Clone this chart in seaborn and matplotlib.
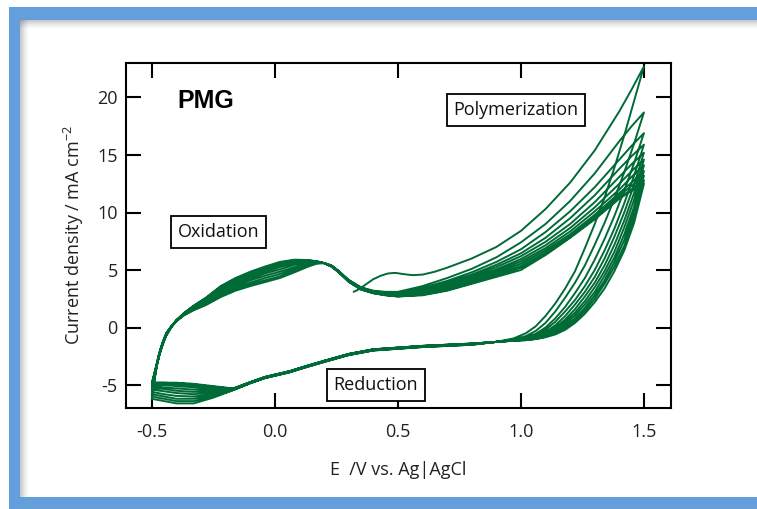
import numpy as np
import pandas as pd
import matplotlib
matplotlib.use("Agg")
import matplotlib.pyplot as plt
import seaborn as sns
from matplotlib.patches import Rectangle

# ---------------- data ----------------
# forward sweep potential grid (V) for full cycles
E_FWD = [-0.50, -0.49, -0.48, -0.47, -0.46, -0.45, -0.44, -0.42, -0.40, -0.37,
         -0.33, -0.28, -0.22, -0.16, -0.10, -0.04, 0.02, 0.08, 0.13, 0.17,
         0.20, 0.23, 0.26, 0.30, 0.35, 0.40, 0.45, 0.50, 0.60, 0.70,
         0.80, 0.90, 1.00, 1.10, 1.20, 1.30, 1.40, 1.45, 1.50]
# reverse sweep potential grid (V)
E_REV = [1.50, 1.46, 1.42, 1.38, 1.34, 1.30, 1.26, 1.22, 1.18, 1.14,
         1.10, 1.06, 1.02, 0.97, 0.90, 0.80, 0.60, 0.40, 0.30, 0.20,
         0.12, 0.06, 0.01, -0.04, -0.10, -0.17, -0.25, -0.33, -0.40, -0.45,
         -0.50]

# cycle 1 forward (starts at open-circuit ~0.32 V)
E_C1 = [0.32, 0.34, 0.37, 0.40, 0.43, 0.46, 0.49, 0.52, 0.56, 0.60,
        0.65, 0.70, 0.80, 0.90, 1.00, 1.10, 1.20, 1.30, 1.40, 1.45, 1.50]
fwd_1 = [3.1, 3.3, 3.75, 4.2, 4.5, 4.7, 4.75, 4.65, 4.55, 4.6,
         4.85, 5.2, 6.0, 7.0, 8.4, 10.3, 12.6, 15.4, 18.8, 20.7, 22.7]

# forward currents (mA cm-2) for cycles 2..11 on E_FWD
fwd_2 = [-6.2, -4.7, -3.35, -2.45, -1.75, -1.15, -0.65, 0.05, 0.55, 1.05, 1.5, 1.95, 2.65, 3.2, 3.6, 3.95, 4.3, 4.8, 5.25, 5.55, 5.6, 5.4, 4.9, 4.15, 3.5, 3.2, 3.1, 3.1, 3.6, 4.3, 5.1, 6.1, 7.4, 9.0, 11.0, 13.4, 16.2, 17.5, 18.7]
fwd_3 = [-6.0, -4.6, -3.35, -2.45, -1.75, -1.15, -0.65, 0.05, 0.55, 1.07, 1.55, 2.05, 2.75, 3.35, 3.75, 4.1, 4.45, 4.95, 5.35, 5.6, 5.6, 5.4, 4.9, 4.1, 3.45, 3.15, 3.05, 3.05, 3.45, 4.05, 4.8, 5.7, 6.8, 8.3, 10.1, 12.2, 14.6, 15.8, 16.9]
fwd_4 = [-5.8, -4.5, -3.3, -2.4, -1.7, -1.1, -0.6, 0.08, 0.58, 1.1, 1.6, 2.15, 2.9, 3.5, 3.9, 4.3, 4.65, 5.1, 5.45, 5.62, 5.6, 5.38, 4.88, 4.1, 3.45, 3.12, 3.0, 3.0, 3.35, 3.9, 4.6, 5.45, 6.45, 7.8, 9.5, 11.5, 13.8, 14.9, 15.9]
fwd_5 = [-5.6, -4.4, -3.3, -2.4, -1.7, -1.1, -0.6, 0.08, 0.58, 1.12, 1.65, 2.25, 3.05, 3.65, 4.1, 4.5, 4.85, 5.25, 5.55, 5.65, 5.6, 5.37, 4.87, 4.08, 3.42, 3.1, 2.97, 2.95, 3.25, 3.75, 4.45, 5.25, 6.2, 7.45, 9.0, 10.9, 13.1, 14.2, 15.2]
fwd_6 = [-5.4, -4.3, -3.25, -2.35, -1.65, -1.05, -0.55, 0.1, 0.6, 1.15, 1.7, 2.35, 3.2, 3.8, 4.25, 4.7, 5.05, 5.45, 5.65, 5.68, 5.6, 5.35, 4.85, 4.06, 3.4, 3.07, 2.93, 2.9, 3.15, 3.6, 4.3, 5.05, 5.95, 7.15, 8.65, 10.45, 12.5, 13.6, 14.6]
fwd_7 = [-5.25, -4.25, -3.25, -2.35, -1.65, -1.05, -0.55, 0.1, 0.6, 1.17, 1.75, 2.4, 3.3, 3.95, 4.4, 4.85, 5.25, 5.6, 5.72, 5.7, 5.6, 5.33, 4.83, 4.04, 3.38, 3.05, 2.9, 2.85, 3.05, 3.5, 4.15, 4.9, 5.75, 6.9, 8.35, 10.1, 12.0, 13.1, 14.1]
fwd_8 = [-5.1, -4.15, -3.2, -2.3, -1.6, -1.0, -0.5, 0.12, 0.62, 1.2, 1.8, 2.45, 3.4, 4.05, 4.55, 5.0, 5.4, 5.72, 5.78, 5.72, 5.6, 5.32, 4.82, 4.02, 3.35, 3.03, 2.87, 2.8, 2.95, 3.4, 4.0, 4.75, 5.55, 6.7, 8.1, 9.8, 11.7, 12.6, 13.6]
fwd_9 = [-5.0, -4.1, -3.2, -2.3, -1.6, -1.0, -0.5, 0.12, 0.62, 1.22, 1.85, 2.5, 3.45, 4.15, 4.65, 5.1, 5.5, 5.8, 5.82, 5.74, 5.6, 5.31, 4.81, 4.0, 3.33, 3.01, 2.84, 2.75, 2.9, 3.3, 3.9, 4.6, 5.35, 6.5, 7.95, 9.6, 11.5, 12.3, 13.2]
fwd_10 = [-4.9, -4.05, -3.15, -2.25, -1.55, -0.95, -0.45, 0.14, 0.64, 1.24, 1.88, 2.55, 3.55, 4.25, 4.75, 5.2, 5.6, 5.86, 5.85, 5.75, 5.6, 5.3, 4.8, 3.98, 3.31, 2.99, 2.81, 2.7, 2.85, 3.25, 3.85, 4.5, 5.2, 6.4, 7.85, 9.5, 11.3, 12.0, 12.8]
fwd_11 = [-4.8, -4.0, -3.15, -2.25, -1.55, -0.95, -0.45, 0.14, 0.64, 1.25, 1.9, 2.6, 3.6, 4.3, 4.85, 5.3, 5.7, 5.9, 5.87, 5.76, 5.6, 5.3, 4.8, 3.97, 3.3, 2.98, 2.8, 2.7, 2.8, 3.2, 3.8, 4.4, 5.0, 6.3, 7.8, 9.4, 11.2, 11.9, 12.5]

# reverse currents (mA cm-2) for cycles 1..11 on E_REV
rev_1 = [22.7, 19.7, 16.7, 13.9, 11.3, 9.0, 6.9, 4.9, 3.4, 2.1, 1.0, 0.1, -0.5, -0.95, -1.25,
         -1.5, -1.7, -2.0, -2.4, -3.0, -3.5, -3.9, -4.15, -4.4, -4.85, -5.45, -6.1, -6.6, -6.6, -6.4, -6.2]
rev_2 = [18.7, 16.0, 13.5, 11.2, 9.1, 7.2, 5.4, 3.9, 2.6, 1.4, 0.4, -0.3, -0.75, -1.05, -1.25,
         -1.5, -1.7, -2.0, -2.4, -3.0, -3.5, -3.9, -4.15, -4.4, -4.85, -5.45, -6.0, -6.4, -6.4, -6.2, -6.0]
rev_3 = [16.9, 14.3, 11.9, 9.7, 7.7, 5.9, 4.3, 3.0, 1.8, 0.8, 0.0, -0.55, -0.85, -1.1, -1.25,
         -1.47, -1.67, -1.97, -2.37, -2.97, -3.47, -3.87, -4.12, -4.37, -4.82, -5.42, -5.9, -6.2, -6.2, -6.0, -5.8]
rev_4 = [15.9, 13.2, 10.8, 8.6, 6.7, 5.0, 3.6, 2.4, 1.4, 0.5, -0.2, -0.65, -0.9, -1.1, -1.25,
         -1.47, -1.67, -1.97, -2.37, -2.97, -3.47, -3.87, -4.12, -4.37, -4.82, -5.42, -5.8, -6.0, -5.95, -5.8, -5.6]
rev_5 = [15.2, 12.4, 10.0, 7.9, 6.0, 4.4, 3.1, 2.0, 1.0, 0.2, -0.4, -0.75, -0.95, -1.1, -1.25,
         -1.45, -1.65, -1.95, -2.35, -2.95, -3.45, -3.85, -4.1, -4.35, -4.8, -5.4, -5.65, -5.8, -5.7, -5.55, -5.4]
rev_6 = [14.6, 11.7, 9.3, 7.2, 5.4, 3.9, 2.7, 1.6, 0.7, 0.0, -0.5, -0.8, -1.0, -1.1, -1.25,
         -1.45, -1.65, -1.95, -2.35, -2.95, -3.45, -3.85, -4.1, -4.35, -4.8, -5.4, -5.55, -5.6, -5.5, -5.35, -5.25]
rev_7 = [14.1, 11.1, 8.7, 6.6, 4.9, 3.5, 2.3, 1.3, 0.5, -0.15, -0.6, -0.85, -1.0, -1.12, -1.25,
         -1.43, -1.62, -1.92, -2.32, -2.92, -3.42, -3.82, -4.07, -4.32, -4.78, -5.38, -5.45, -5.4, -5.3, -5.2, -5.1]
rev_8 = [13.6, 10.5, 8.1, 6.1, 4.5, 3.1, 2.0, 1.05, 0.3, -0.3, -0.65, -0.9, -1.05, -1.12, -1.25,
         -1.43, -1.62, -1.92, -2.32, -2.92, -3.42, -3.82, -4.07, -4.32, -4.78, -5.36, -5.35, -5.2, -5.1, -5.0, -5.0]
rev_9 = [13.2, 10.0, 7.6, 5.7, 4.1, 2.8, 1.7, 0.8, 0.1, -0.4, -0.7, -0.95, -1.05, -1.15, -1.25,
         -1.4, -1.6, -1.9, -2.3, -2.9, -3.4, -3.8, -4.05, -4.3, -4.75, -5.34, -5.25, -5.05, -4.95, -4.9, -4.9]
rev_10 = [12.8, 9.5, 7.1, 5.3, 3.8, 2.5, 1.45, 0.6, -0.05, -0.5, -0.8, -1.0, -1.1, -1.15, -1.25,
          -1.4, -1.6, -1.9, -2.3, -2.9, -3.4, -3.8, -4.05, -4.3, -4.75, -5.32, -5.15, -4.95, -4.85, -4.8, -4.8]
rev_11 = [12.5, 9.1, 6.7, 4.9, 3.4, 2.2, 1.2, 0.4, -0.2, -0.6, -0.85, -1.0, -1.1, -1.15, -1.25,
          -1.4, -1.6, -1.9, -2.3, -2.9, -3.4, -3.8, -4.05, -4.3, -4.75, -5.3, -5.1, -4.9, -4.8, -4.8, -4.8]

X_TICKS = [-0.5, 0.0, 0.5, 1.0, 1.5]
X_TICK_LABELS = ["-0.5", "0.0", "0.5", "1.0", "1.5"]
Y_TICKS = [-5, 0, 5, 10, 15, 20]
Y_TICK_LABELS = ["-5", "0", "5", "10", "15", "20"]

LINE_COLOR = "#006B36"
BLUE = "#659FDB"

# ---------------- build one continuous trace ----------------
forwards = [fwd_2, fwd_3, fwd_4, fwd_5, fwd_6, fwd_7, fwd_8, fwd_9, fwd_10, fwd_11]
reverses = [rev_1, rev_2, rev_3, rev_4, rev_5, rev_6, rev_7, rev_8, rev_9, rev_10, rev_11]
assert len(E_C1) == len(fwd_1)
for f in forwards:
    assert len(f) == len(E_FWD), len(f)
for r in reverses:
    assert len(r) == len(E_REV), len(r)

E_all, I_all = list(E_C1), list(fwd_1)
E_all += E_REV[1:]
I_all += rev_1[1:]
for f, r in zip(forwards, reverses[1:]):
    E_all += E_FWD[1:]
    I_all += f[1:]
    E_all += E_REV[1:]
    I_all += r[1:]
df = pd.DataFrame({"E": E_all, "I": I_all})

# ---------------- style ----------------
sns.set_theme(style="white")
plt.rcParams['font.family'] = ['Open Sans', 'DejaVu Sans']
plt.rcParams['mathtext.fontset'] = 'custom'
plt.rcParams['mathtext.rm'] = 'Open Sans'
plt.rcParams['mathtext.it'] = 'Open Sans:italic'
plt.rcParams['axes.unicode_minus'] = False

W, H = 757, 509
fig = plt.figure(figsize=(W / 100, H / 100), dpi=100)
fig.patch.set_facecolor("white")


def px_rect(x0, y0, w, h, **kw):
    return Rectangle((x0 / W, 1 - (y0 + h) / H), w / W, h / H,
                     transform=fig.transFigure, zorder=-5, **kw)


# blue frame with inner white panel and soft shadow
fig.patches.append(px_rect(9, 7, 800, 520, facecolor=BLUE, edgecolor="none"))
fig.patches.append(px_rect(20, 20, 800, 477, facecolor="white", edgecolor="none"))
for k in range(9):
    a = 0.22 * (1 - k / 9) ** 1.5
    fig.patches.append(px_rect(20 + k, 20, 1, 477, facecolor="black", edgecolor="none", alpha=a))
    fig.patches.append(px_rect(20, 20 + k, 800, 1, facecolor="black", edgecolor="none", alpha=a))

ax = fig.add_axes([126 / W, 1 - 408 / H, (671 - 126) / W, (408 - 63) / H])
ax.set_facecolor("white")

sns.lineplot(data=df, x="E", y="I", sort=False, estimator=None,
             color=LINE_COLOR, linewidth=1.4, ax=ax)

ax.set_xlim(-0.605, 1.61)
ax.set_ylim(-7, 23)
ax.set_xticks(X_TICKS)
ax.set_xticklabels(X_TICK_LABELS)
ax.set_yticks(Y_TICKS)
ax.set_yticklabels(Y_TICK_LABELS)
ax.tick_params(axis="both", direction="in", length=11, width=1.5, color="black",
               labelsize=13, labelcolor="#222222", top=True, right=True,
               bottom=True, left=True)
ax.tick_params(axis="x", pad=11)
ax.tick_params(axis="y", pad=6)
for s in ax.spines.values():
    s.set_visible(True)
    s.set_linewidth(1.5)
    s.set_color("black")

ax.set_xlabel("E  /V vs. Ag|AgCl", fontsize=13, color="#222222", labelpad=14)
ax.set_ylabel("Current density / mA cm$^{-2}$", fontsize=13, color="#222222", labelpad=8)

ax.text(-0.395, 19.1, "PMG", fontsize=18, fontweight="bold", family="Liberation Sans",
        ha="left", va="baseline", color="black")
box = dict(boxstyle="square,pad=0.38", facecolor="white", edgecolor="black", linewidth=1.3)
ax.text(-0.23, 8.3, "Oxidation", fontsize=13, ha="center", va="center", bbox=box, color="#111111")
ax.text(0.98, 18.9, "Polymerization", fontsize=13, ha="center", va="center", bbox=box, color="#111111")
ax.text(0.41, -5.0, "Reduction", fontsize=13, ha="center", va="center", bbox=box, color="#111111")

fig.savefig("out.png", dpi=100)
